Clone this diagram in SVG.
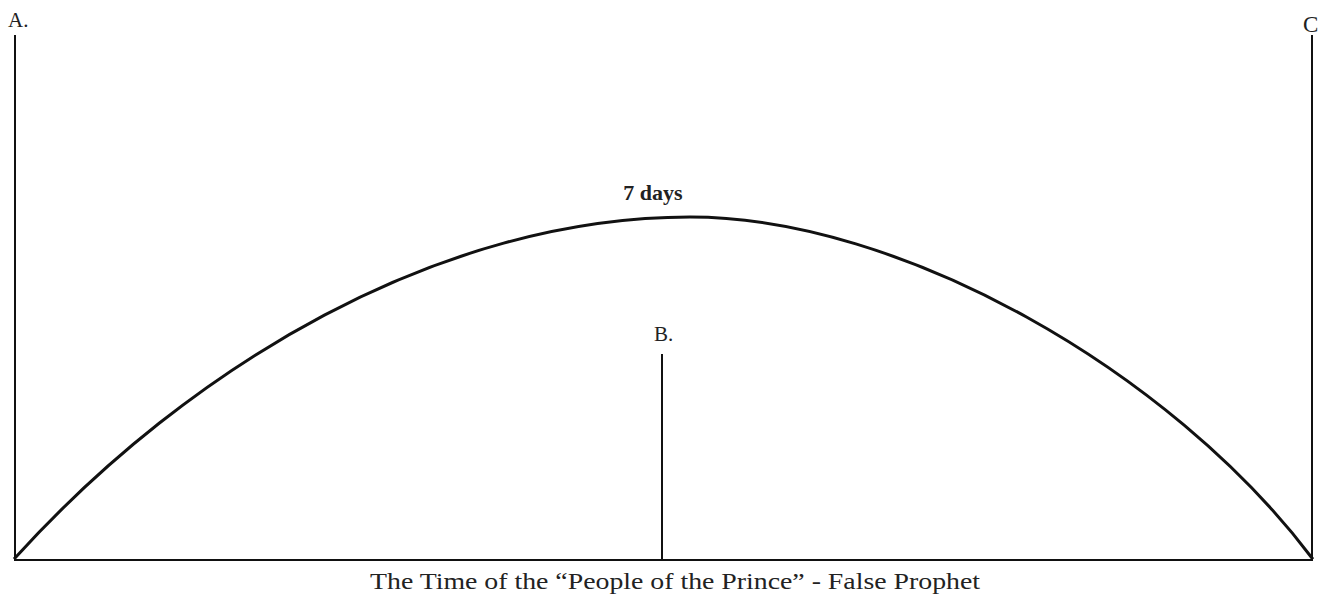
<svg xmlns="http://www.w3.org/2000/svg" width="1321" height="596" viewBox="0 0 1321 596">
<style>
.ln{stroke:#111;fill:none;stroke-linecap:square}
.t{font-family:"Liberation Serif",serif;fill:#222}
</style>
<rect width="1321" height="596" fill="#fff"/>
<g id="connectors">
<path class="ln" stroke-width="2" d="M15,36 V559"/>
<path class="ln" stroke-width="2" d="M1312,36 V559"/>
<path class="ln" stroke-width="2" d="M15,560 H1312"/>
<path class="ln" stroke-width="2" d="M662,355 V560"/>
<path class="ln" stroke-width="3" d="M15,558 C190,365 440,217 690,217 C900,217 1170,370 1312,558"/>
</g>
<g id="A"><text class="t" x="8" y="27" font-size="21">A.</text></g>
<g id="C"><text class="t" x="1303" y="32" font-size="23">C</text></g>
<g id="arc-label"><text class="t" x="653" y="200" font-size="22" font-weight="bold" text-anchor="middle">7 days</text></g>
<g id="B"><text class="t" x="654" y="341" font-size="21">B.</text></g>
<g id="caption"><text class="t" x="675" y="589" font-size="24" text-anchor="middle" textLength="610" lengthAdjust="spacingAndGlyphs">The Time of the “People of the Prince” - False Prophet</text></g>
</svg>
